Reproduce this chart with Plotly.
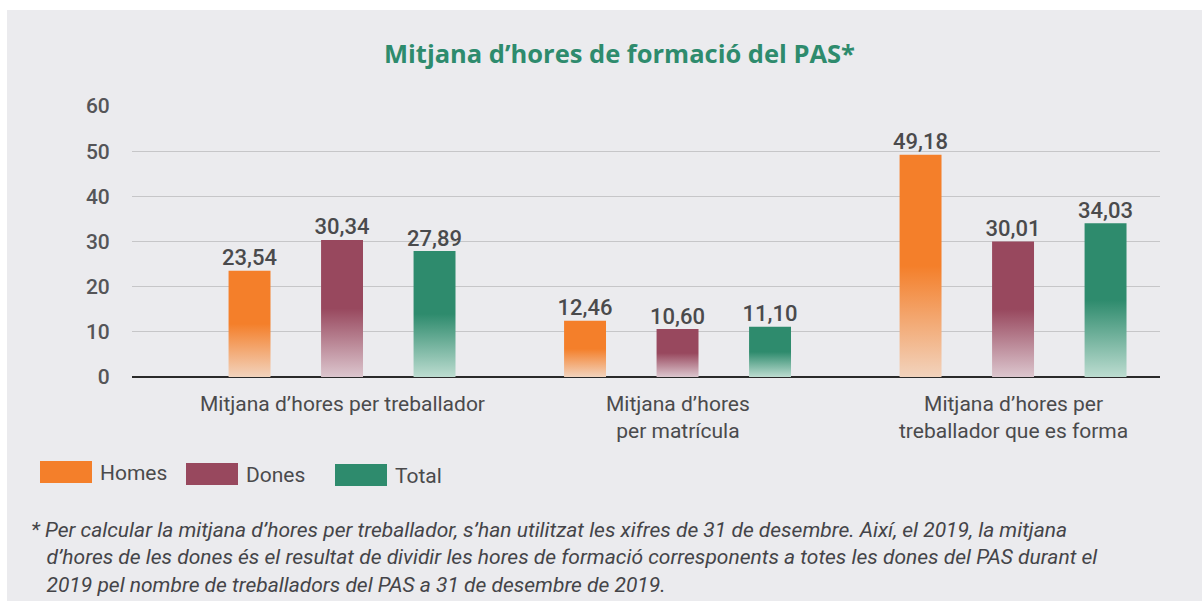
import plotly.graph_objects as go

# ---------------- data ----------------
categories = ["Mitjana d’hores per treballador",
              "Mitjana d’hores<br>per matrícula",
              "Mitjana d’hores per<br>treballador que es forma"]
series_names = ["Homes", "Dones", "Total"]
homes = [23.54, 12.46, 49.18]
dones = [30.34, 10.60, 30.01]
total = [27.89, 11.10, 34.03]
y_ticks = [0, 10, 20, 30, 40, 50, 60]

title_text = "Mitjana d’hores de formació del PAS*"
footnote_lines = [
    "* Per calcular la mitjana d’hores per treballador, s’han utilitzat les xifres de 31 de desembre. Així, el 2019, la mitjana",
    "\u00a0\u00a0\u00a0d’hores de les dones és el resultat de dividir les hores de formació corresponents a totes les dones del PAS durant el",
    "\u00a0\u00a0\u00a02019 pel nombre de treballadors del PAS a 31 de desembre de 2019.",
]

# ---------------- style ----------------
solid = ["#F47F2A", "#98485E", "#2E8B6D"]
light = ["#F2D3BD", "#DCC6CE", "#BCDCD0"]
BG = "#EBEBEE"
W, H = 1202, 601
L, R, T, B = 132, 42, 106, 224
plot_w, plot_h = W - L - R, H - T - B

x_range = [-0.626, 2.438]
group_step = 0.2757
bar_w = 0.125

def px_x(p):
    return (p - L) / plot_w

def px_y(p):
    return (H - B - p) / plot_h

fig = go.Figure()
series = [homes, dones, total]
for i, (name, vals) in enumerate(zip(series_names, series)):
    off = (i - 1) * group_step
    for j, v in enumerate(vals):
        xc = j + off
        xs = [xc - bar_w / 2, xc - bar_w / 2, xc + bar_w / 2, xc + bar_w / 2, xc - bar_w / 2]
        ys = [0, v, v, 0, 0]
        fig.add_trace(go.Scatter(
            x=xs, y=ys, mode="lines", fill="toself",
            line=dict(width=0, color=solid[i]),
            fillgradient=dict(type="vertical",
                              colorscale=[[0, light[i]], [0.5, solid[i]], [1, solid[i]]]),
            showlegend=False, hoverinfo="skip", name=name))
    fig.add_trace(go.Scatter(
        x=[j + off for j in range(len(vals))], y=vals, mode="text",
        texttemplate="%{y:.2f}", textposition="top center",
        textfont=dict(family="Roboto", size=22, color="#4A4A4C", weight=500),
        showlegend=False, hoverinfo="skip"))

shapes = [
    dict(type="rect", xref="paper", yref="paper",
         x0=px_x(7), x1=px_x(W + 5), y0=px_y(H + 5), y1=px_y(10),
         fillcolor=BG, line=dict(width=0), layer="below"),
]
annotations = [
    dict(text=title_text, xref="paper", yref="paper", x=px_x(619), y=px_y(53),
         showarrow=False, xanchor="center", yanchor="middle",
         font=dict(family="Open Sans", size=25.5, color="#2E8B6D", weight=700)),
]

# category labels (centred on each category, top-anchored under the axis)
for j, cat in enumerate(categories):
    annotations.append(dict(text=cat, xref="x", yref="paper", x=j, y=px_y(390),
                            showarrow=False, xanchor="center", yanchor="top", align="center",
                            font=dict(family="Roboto", size=21, color="#4A4A4C")))

annotations.append(dict(text="<br>".join(footnote_lines), xref="paper", yref="paper",
                        x=px_x(29), y=px_y(516),
                        showarrow=False, xanchor="left", yanchor="top", align="left",
                        font=dict(family="Roboto", size=21, color="#444448", style="italic")))

# manual legend
leg_x = [40, 186, 335]
leg_y = [472, 474, 475]
for i, name in enumerate(series_names):
    shapes.append(dict(type="rect", xref="paper", yref="paper",
                       x0=px_x(leg_x[i]), x1=px_x(leg_x[i] + 52),
                       y0=px_y(leg_y[i] + 11), y1=px_y(leg_y[i] - 11),
                       fillcolor=solid[i], line=dict(width=0)))
    annotations.append(dict(text=name, xref="paper", yref="paper",
                            x=px_x(leg_x[i] + 58), y=px_y(leg_y[i] + 1),
                            showarrow=False, xanchor="left", yanchor="middle",
                            font=dict(family="Roboto", size=21, color="#4A4A4C", weight=400)))

fig.update_layout(
    width=W, height=H,
    margin=dict(l=L, r=R, t=T, b=B),
    paper_bgcolor="white", plot_bgcolor="rgba(0,0,0,0)",
    separators=",.",
    shapes=shapes, annotations=annotations,
    showlegend=False,
    xaxis=dict(range=x_range, showticklabels=False,
               showgrid=False, zeroline=False, showline=False, fixedrange=True),
    yaxis=dict(range=[0, 60], tickvals=y_ticks, showgrid=True, gridcolor="#C6C6C8", gridwidth=1,
               zeroline=True, zerolinecolor="#2A2A2A", zerolinewidth=1.5, showline=False,
               ticks="outside", ticklen=17, tickcolor="rgba(0,0,0,0)",
               tickfont=dict(family="Roboto", size=21, color="#555558", weight=500), fixedrange=True),
)

fig.write_html("out.html", post_script="document.body.style.margin='0';",
               config={"displayModeBar": False})
